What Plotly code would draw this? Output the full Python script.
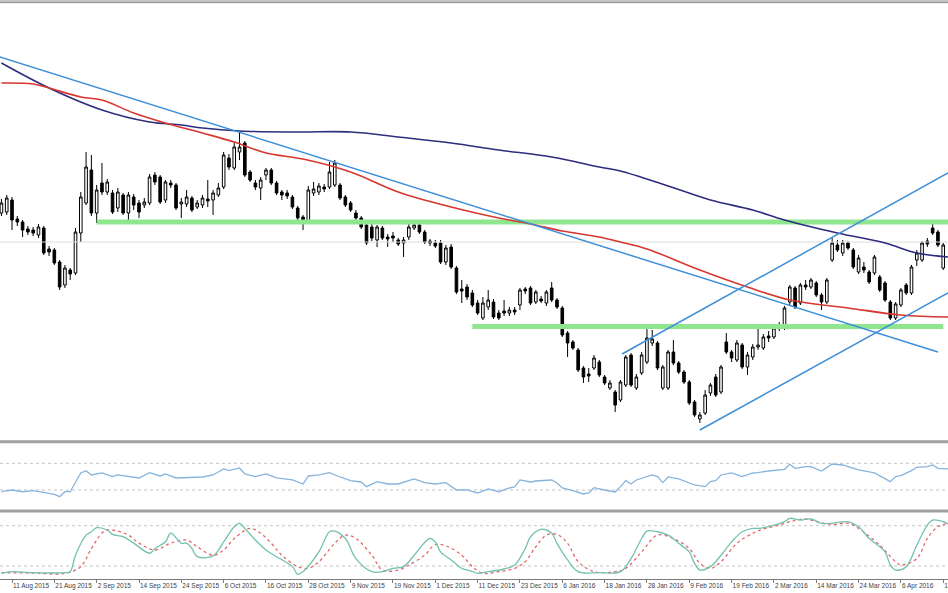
import plotly.graph_objects as go

# ---------------- data ----------------
bar_index = list(range(-2, 177))

opens = [287,288,300,281,278,271,270,265,272,251,250,238,215,230,227,267,297,330,287,317,
         308,307,292,305,287,303,297,295,297,325,323,300,317,315,296,296,302,293,295,301,
         300,305,313,342,332,348,357,328,317,312,325,330,317,308,307,303,292,283,278,307,
         308,313,313,315,315,303,297,287,282,275,273,260,272,263,264,260,257,263,272,275,
         268,259,257,257,238,253,232,211,213,207,197,182,193,198,187,189,187,190,195,211,
         212,198,201,197,212,200,192,167,158,150,132,126,132,138,123,112,108,100,115,145,
         112,127,138,157,157,112,112,148,137,128,118,98,81,87,107,123,108,158,148,140,
         155,133,143,153,152,164,163,174,172,198,212,197,215,213,217,205,198,240,255,247,
         257,250,228,233,228,227,223,217,198,182,195,215,207,240,240,259,272,268,232]
highs = [301,305,303,284,280,274,273,276,274,254,252,240,235,232,272,308,348,345,315,337,
         321,310,312,307,308,306,300,302,326,328,325,320,320,317,302,310,304,300,305,320,
         310,317,348,346,358,368,359,330,320,323,332,332,319,310,310,305,294,285,314,318,
         317,316,338,340,317,305,299,290,284,277,276,275,274,266,268,262,263,276,278,278,
         270,261,260,260,255,256,234,220,216,210,200,203,210,201,190,200,193,193,212,213,
         214,210,204,210,218,202,194,169,160,152,134,132,145,140,125,120,110,120,145,147,
         126,148,175,170,159,135,150,160,139,130,120,100,88,110,117,126,135,167,150,160,
         157,148,156,172,166,169,175,178,194,215,214,217,220,222,219,207,222,262,260,260,
         259,252,245,238,230,245,225,219,200,198,212,217,235,250,259,262,277,270,257]
lows = [284,285,270,274,263,265,264,262,245,244,235,210,212,220,225,258,295,284,277,305,
        305,286,288,285,280,290,282,292,295,315,296,297,312,290,282,293,288,291,292,293,
        285,303,311,330,330,340,323,318,310,300,320,315,305,300,301,291,280,270,276,304,
        305,308,311,313,300,293,288,280,271,255,259,253,260,253,258,254,243,260,270,266,
        256,254,252,236,235,231,206,197,200,193,185,180,190,181,180,184,184,185,190,206,
        195,196,197,194,198,191,163,143,150,128,117,118,130,123,115,110,88,98,113,113,
        110,125,136,154,130,110,110,135,126,116,95,83,77,85,104,103,106,146,138,138,
        131,125,140,150,150,158,161,169,170,195,191,195,210,211,203,190,196,238,248,244,
        250,231,226,227,216,225,208,198,180,180,193,205,205,234,238,253,265,253,230]
closes = [297,302,280,278,270,268,267,273,247,248,237,213,232,226,268,303,333,287,310,308,
          318,288,308,287,305,295,288,298,323,318,298,318,315,292,298,303,290,297,302,299,
          307,312,345,333,353,353,325,320,313,320,330,317,307,305,304,293,282,278,310,311,
          314,311,328,337,302,295,290,282,273,257,262,273,262,261,262,256,260,273,275,268,
          258,257,254,238,252,233,208,209,203,195,187,197,200,183,182,187,190,188,210,209,
          197,208,199,208,200,193,165,157,152,130,123,124,142,125,117,117,95,118,143,115,
          123,145,162,161,132,133,148,137,128,118,97,85,85,105,115,105,133,148,142,157,
          133,145,153,155,163,162,172,172,192,213,193,215,213,220,205,198,220,257,250,257,
          252,233,242,230,218,243,210,200,182,196,210,207,233,247,257,256,267,255,255]

ma_slow_idx = [-2, 7, 17, 26, 32, 36, 43, 54, 64, 73, 83, 92, 102, 111, 115, 124, 132, 140, 146, 156, 165, 171, 177]
ma_slow_val = [437, 412, 390, 378, 375, 372, 369, 368, 368, 363, 357, 350, 343, 333, 329, 314, 300, 290, 280, 267, 257, 247, 243]

ma_fast_idx = [-2, 4, 7, 13, 17, 23, 29, 36, 42, 48, 55, 64, 73, 83, 92, 98, 104, 111, 115, 120, 130, 139, 147, 158, 168, 177]
ma_fast_val = [417, 416, 412, 403, 400, 387, 377, 367, 358, 347, 341, 328, 308, 293, 282, 276, 269, 263, 258, 251, 230, 213, 200, 192, 185, 183]

trend_down_x = [-2.3, 175.0]
trend_down_y = [443, 148]
channel_low_x = [130.0, 176.9]
channel_low_y = [70, 207]
channel_high_x = [115.3, 176.9]
channel_high_y = [146, 327]

support_hi_x = [16, 176.9]
support_hi_y = [278, 278]
support_lo_x = [87, 176]
support_lo_y = [173.5, 173.5]
price_line = 258

rsi_idx = [-2,0,2,4,6,8,9,10,11,13,14,15,17,19,20,22,24,26,28,29,31,36,38,40,41,43,44,46,48,50,
           53,55,56,58,60,62,64,66,67,69,71,73,76,78,80,82,84,86,88,90,92,94,95,96,98,99,102,103,104,106,
           108,109,110,112,114,115,116,117,118,121,122,123,124,126,129,131,132,133,134,136,137,138,140,141,143,146,147,148,150,151,
           153,155,157,160,163,164,166,167,168,170,171,173,174,175,177]
rsi_val = [27.4,30,27.4,29,26.5,23.5,20,27.4,27.4,55.5,59,52.5,55.5,50,52.5,50,48,56,51,54,48,49.5,52.5,61.5,59,63,54,50,54,48,
           45,39,51,52.5,56,49.5,44,42,35,42.5,39,39,46.5,41,39,41,30,30,25.5,31.5,27.4,33,34.5,45,42,43.5,45,40.5,33,29,
           24,25.5,33.4,30,27,35,44,39,45,52.5,50,41,49.5,46.5,37.5,35,42.5,44,52.5,55.5,52.5,50,55.5,56,58.5,61,68.5,62.5,65,65,
           58.5,69,67.5,60,55.5,51,42.5,50,51.5,59,64,65,67.5,62.5,61.5]
rsi_levels = [30, 70]

stoch_k_idx = [-2,0,4,10,11,12,14,15,16,18,19,21,23,26,27,29,30,32,33,34,35,38,40,42,43,44,46,48,50,53,
               54,55,58,60,61,63,65,68,70,72,74,76,78,79,80,81,83,85,87,88,90,93,95,97,98,100,102,103,105,107,
               111,115,117,119,120,122,124,126,128,129,130,132,134,136,138,140,141,143,146,147,149,151,153,155,158,160,162,165,166,167,
               169,171,173,174,176,177]
stoch_k_val = [9,11.5,10,10,11.5,36,66,71,77,73.6,67,63.6,54,39,46,56,69,54,54,46,34,35,56,78.5,83.6,76,58.7,43.8,33.8,19,
               7.6,11.5,41,71,72,61,31,11.5,11.5,16.5,19,36,55,61,56,41,29,16.5,12,9,11.5,15.5,21.5,46,63.6,74.6,68.7,53.8,29,11.5,
               10,11.5,31,61,72,71,66,53.8,41,24,14,19,36,56,71,76,76,78.5,86,91,88.5,90,83.6,83.6,86,78.5,61,41,21.5,14,
               19,51,81,88.5,86,82]
stoch_d_idx = [-2,4,10,13,15,17,18,20,22,24,27,30,33,35,38,40,42,45,47,49,51,54,56,58,61,63,65,68,70,73,75,78,
               80,82,85,87,89,92,95,97,99,101,103,105,107,110,114,116,119,122,125,128,130,132,134,137,140,142,145,147,150,152,
               155,158,160,164,167,168,171,173,175,177]
stoch_d_val = [10,9.5,9,19,46,69,73.6,72,66,54,43.8,54,58.7,48.7,36,43.8,61,76,68.7,53.8,36,19,16.5,26.4,53.8,66,61,36,14,14,21.5,36,
               52,50,36,19,9,11.5,16.5,26.4,48.7,66,67,53.8,26.4,11.5,11.5,16.5,41,66,61,46,24,16.5,26.4,53.8,68.7,75,81,86,90,86,
               82,83.6,76,51,26.4,21.5,31,61,78.5,83.6]
stoch_levels = [20, 80]

tick_idx = [0, 8, 16, 24, 32, 40, 48, 56, 64, 72, 80, 88, 96, 104, 112, 120, 128, 136, 144, 152, 160, 168, 176]
tick_labels = ["11 Aug 2015", "21 Aug 2015", "2 Sep 2015", "14 Sep 2015", "24 Sep 2015", "6 Oct 2015",
               "16 Oct 2015", "28 Oct 2015", "9 Nov 2015", "19 Nov 2015", "1 Dec 2015", "11 Dec 2015",
               "23 Dec 2015", "6 Jan 2016", "18 Jan 2016", "28 Jan 2016", "9 Feb 2016", "19 Feb 2016",
               "2 Mar 2016", "14 Mar 2016", "24 Mar 2016", "6 Apr 2016", "18 Apr 2016"]

# ---------------- figure ----------------
H = 593.0
def fy(px):
    return 1 - px / H

X_RANGE = [-2.27, 176.9]

fig = go.Figure()

# support bands & price line (behind candles)
fig.add_trace(go.Scatter(x=support_hi_x, y=support_hi_y, mode="lines",
                         line=dict(color="#8fe68f", width=5), xaxis="x", yaxis="y", hoverinfo="skip"))
fig.add_trace(go.Scatter(x=support_lo_x, y=support_lo_y, mode="lines",
                         line=dict(color="#8fe68f", width=5), xaxis="x", yaxis="y", hoverinfo="skip"))
fig.add_trace(go.Scatter(x=X_RANGE, y=[price_line, price_line], mode="lines",
                         line=dict(color="#dcdcdc", width=1), xaxis="x", yaxis="y", hoverinfo="skip"))

fig.add_trace(go.Candlestick(
    x=bar_index, open=opens, high=highs, low=lows, close=closes,
    increasing=dict(line=dict(color="#000000", width=1), fillcolor="#ffffff"),
    decreasing=dict(line=dict(color="#000000", width=1), fillcolor="#000000"),
    whiskerwidth=0, xaxis="x", yaxis="y"))

fig.add_trace(go.Scatter(x=ma_slow_idx, y=ma_slow_val, mode="lines", line_shape="spline",
                         line=dict(color="#2d2d7e", width=1.6), xaxis="x", yaxis="y"))
fig.add_trace(go.Scatter(x=ma_fast_idx, y=ma_fast_val, mode="lines", line_shape="spline",
                         line=dict(color="#d8362e", width=1.6), xaxis="x", yaxis="y"))

for tx, ty in [(trend_down_x, trend_down_y), (channel_low_x, channel_low_y), (channel_high_x, channel_high_y)]:
    fig.add_trace(go.Scatter(x=tx, y=ty, mode="lines", line=dict(color="#3d8fd9", width=1.5),
                             xaxis="x", yaxis="y"))

# RSI panel
fig.add_trace(go.Scatter(x=rsi_idx, y=rsi_val, mode="lines",
                         line=dict(color="#86b4dc", width=1.3), xaxis="x2", yaxis="y2"))
# Stochastic panel
fig.add_trace(go.Scatter(x=stoch_d_idx, y=stoch_d_val, mode="lines", line_shape="spline",
                         line=dict(color="#e26a6a", width=1.3, dash="dot"), xaxis="x3", yaxis="y3"))
fig.add_trace(go.Scatter(x=stoch_k_idx, y=stoch_k_val, mode="lines", line_shape="spline",
                         line=dict(color="#72c2ae", width=1.3), xaxis="x3", yaxis="y3"))

shapes = []
for lv in rsi_levels:
    shapes.append(dict(type="line", xref="paper", yref="y2", x0=0, x1=1, y0=lv, y1=lv,
                       line=dict(color="#c4c4c4", width=1, dash="dot"), layer="below"))
for lv in stoch_levels:
    shapes.append(dict(type="line", xref="paper", yref="y3", x0=0, x1=1, y0=lv, y1=lv,
                       line=dict(color="#c4c4c4", width=1, dash="dot"), layer="below"))
# panel separators / frame
for ypx, col, w in [(1.2, "#c4c4c4", 2.4), (2.6, "#8c8c8c", 1),
                    (441.7, "#a0a0a0", 3), (511.0, "#a0a0a0", 3)]:
    shapes.append(dict(type="line", xref="paper", yref="paper", x0=0, x1=1, y0=fy(ypx), y1=fy(ypx),
                       line=dict(color=col, width=w)))

hidden = dict(showgrid=False, zeroline=False, showticklabels=False, showline=False, ticks="")

fig.update_layout(
    width=948, height=593,
    margin=dict(l=0, r=0, t=0, b=0),
    paper_bgcolor="#ffffff", plot_bgcolor="#ffffff",
    showlegend=False,
    font=dict(family="Liberation Sans, Arial, sans-serif"),
    xaxis=dict(domain=[0, 1], range=X_RANGE, anchor="y", rangeslider=dict(visible=False), **hidden),
    yaxis=dict(domain=[fy(440), fy(3)], range=[60, 497], anchor="x", **hidden),
    xaxis2=dict(domain=[0, 1], range=X_RANGE, anchor="y2", matches="x", **hidden),
    yaxis2=dict(domain=[fy(510), fy(443.3)], range=[0, 100], anchor="x2", **hidden),
    xaxis3=dict(domain=[0, 1], range=X_RANGE, anchor="y3", matches="x",
                showgrid=False, zeroline=False, showline=True, linecolor="#7a7a7a", linewidth=1,
                ticks="outside", ticklen=3, tickcolor="#7a7a7a", tickwidth=1,
                tickmode="array", tickvals=tick_idx, ticktext=tick_labels,
                ticklabelposition="outside right", tickangle=0, ticklabeloverflow="allow",
                tickfont=dict(size=6.5, color="#404040", family="Liberation Sans, Arial, sans-serif"),
                automargin=False),
    yaxis3=dict(domain=[fy(579.4), fy(512.3)], range=[0, 100], anchor="x3", **hidden),
    shapes=shapes,
)

fig.write_html("out.html", config={"displayModeBar": False},
               post_script="document.body.style.margin='0px';document.body.style.padding='0px';")
